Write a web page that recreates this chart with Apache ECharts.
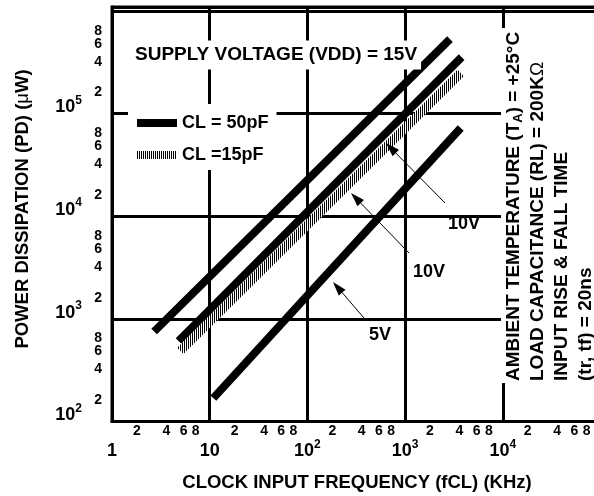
<!DOCTYPE html>
<html>
<head>
<meta charset="utf-8">
<script src="https://cdn.jsdelivr.net/npm/echarts@6/dist/echarts.min.js"></script>
<style>
html,body{margin:0;padding:0;background:#fff;}
#chart{width:594px;height:496px;}
</style>
</head>
<body>
<div id="chart"></div>
<script>
// ---- data ----
const freq15V50pF = [2.7, 2880];
const pd15V50pF   = [656, 463000];
const freq10V50pF = [4.8, 3790];
const pd10V50pF   = [530, 310000];
const freq10V15pF = [5.0, 3710];
const pd10V15pF   = [424, 217000];
const freq5V50pF  = [10.9, 3710];
const pd5V50pF    = [147, 63100];

const xDecades = [1, 10, 100, 1000, 10000];
const yDecades = [100, 1000, 10000, 100000];
const minorMantissas = [2, 4, 6, 8];
const xMinorDecades = [1, 10, 100, 1000, 10000];
const yMinorDecades = [100, 1000, 10000, 100000];

const legend50 = 'CL = 50pF';
const legend15 = 'CL =15pF';

// ---- helpers ----
function pairs(xs, ys) { return xs.map((x, i) => [x, ys[i]]); }
function decadeLabel(v) {
  const n = Math.round(Math.log10(v));
  if (n === 0) return '{b|1}';
  if (n === 1) return '{b|10}';
  return '{b|10}{s|' + n + '}';
}
function mantissa(v) {
  const d = Math.pow(10, Math.floor(Math.log10(v) + 1e-9));
  return String(Math.round(v / d));
}
function minorLabel(v) { return '{m|' + mantissa(v) + '}'; }

// hatched pattern (vertical stripes)
const pc = document.createElement('canvas');
pc.width = 2; pc.height = 2;
const pctx = pc.getContext('2d');
pctx.fillStyle = '#fff'; pctx.fillRect(0, 0, 2, 2);
pctx.fillStyle = '#000'; pctx.fillRect(0, 0, 1, 2);
const hatch = { image: pc, repeat: 'repeat' };

const FONT = '"Liberation Sans", Arial, Helvetica, sans-serif';
const richDecade = {
  b: { fontSize: 18, fontWeight: 'bold', lineHeight: 26, color: '#000', fontFamily: FONT },
  s: { fontSize: 12, fontWeight: 'bold', lineHeight: 12, padding: [0, 0, 14, 0], color: '#000', fontFamily: FONT }
};
const richMinorY = {
  m: { fontSize: 14, fontWeight: 'bold', lineHeight: 14, padding: [32, 0, 0, 0], color: '#000', fontFamily: FONT }
};
const richMinorX = {
  m: { fontSize: 14, fontWeight: 'bold', lineHeight: 14, padding: [0, 9, 0, 0], color: '#000', fontFamily: FONT }
};

const X_MIN = 1, X_MAX = 100000;
const Y_MIN = 87, Y_MAX = 954000;

const chart = echarts.init(document.getElementById('chart'), null, { renderer: 'canvas' });

function arrow(tail, tip) {
  const dx = tip[0] - tail[0], dy = tip[1] - tail[1];
  const L = Math.sqrt(dx * dx + dy * dy);
  const ux = dx / L, uy = dy / L;
  const hl = 14, hw = 4.5;
  const bx = tip[0] - ux * hl, by = tip[1] - uy * hl;
  return [
    { type: 'line', z: 10, shape: { x1: tail[0], y1: tail[1], x2: bx, y2: by },
      style: { stroke: '#000', lineWidth: 1 } },
    { type: 'polygon', z: 10, shape: { points: [tip, [bx - uy * hw, by + ux * hw], [bx + uy * hw, by - ux * hw]] },
      style: { fill: '#000' } }
  ];
}

function bold(size) { return { fontFamily: FONT, fontWeight: 'bold', fontSize: size, fill: '#000' }; }

// one hidden helper axis per mantissa so the offset minor labels never collide
const yMinorAxes = minorMantissas.map(m => ({
  type: 'log', min: Y_MIN, max: Y_MAX, gridIndex: 0, position: 'left',
  axisLine: { show: false }, axisTick: { show: false }, splitLine: { show: false },
  axisLabel: { customValues: yMinorDecades.map(d => m * d), formatter: minorLabel, rich: richMinorY, margin: 10,
    color: '#000', showMinLabel: true, showMaxLabel: true, hideOverlap: false }
}));
const xMinorAxes = minorMantissas.map(m => ({
  type: 'log', min: X_MIN, max: X_MAX, gridIndex: 0, position: 'bottom',
  axisLine: { show: false }, axisTick: { show: false }, splitLine: { show: false },
  axisLabel: { customValues: xMinorDecades.map(d => m * d), formatter: minorLabel, rich: richMinorX, margin: 3,
    color: '#000', showMinLabel: true, showMaxLabel: true, hideOverlap: false }
}));

const option = {
  animation: false,
  backgroundColor: '#fff',
  textStyle: { fontFamily: FONT },
  grid: {
    left: 112, right: -6.5, top: 7, bottom: 74.5,
    show: true, borderColor: '#000', borderWidth: 3, backgroundColor: 'transparent',
    containLabel: false, outerBoundsMode: 'none'
  },
  legend: {
    orient: 'vertical', left: 128, top: 104,
    padding: [9, 8, 5, 9], backgroundColor: '#fff',
    itemWidth: 40, itemHeight: 8, itemGap: 12, icon: 'rect',
    selectedMode: false,
    textStyle: { fontSize: 18, fontWeight: 'bold', color: '#000', fontFamily: FONT, lineHeight: 20 },
    data: [
      { name: legend50, itemStyle: { color: '#000' } },
      { name: legend15, itemStyle: { color: hatch } }
    ]
  },
  xAxis: [
    {
      type: 'log', min: X_MIN, max: X_MAX, gridIndex: 0, position: 'bottom',
      axisLine: { show: true, lineStyle: { color: '#000', width: 3 } },
      axisTick: { show: false },
      splitLine: { show: true, lineStyle: { color: '#000', width: 3 } },
      minorSplitLine: { show: false },
      axisLabel: { customValues: xDecades, formatter: decadeLabel, rich: richDecade, margin: 17, color: '#000',
        showMinLabel: true, showMaxLabel: true, hideOverlap: false }
    }
  ].concat(xMinorAxes),
  yAxis: [
    {
      type: 'log', min: Y_MIN, max: Y_MAX, gridIndex: 0, position: 'left', interval: 1,
      axisLine: { show: true, lineStyle: { color: '#000', width: 3 } },
      axisTick: { show: false },
      splitLine: { show: true, lineStyle: { color: '#000', width: 3 } },
      axisLabel: { customValues: yDecades, formatter: decadeLabel, rich: richDecade, margin: 30, color: '#000',
        showMinLabel: true, showMaxLabel: true, hideOverlap: false }
    }
  ].concat(yMinorAxes),
  series: [
    { name: legend50, type: 'line', data: pairs(freq15V50pF, pd15V50pF), symbol: 'none',
      lineStyle: { color: '#000', width: 8, cap: 'butt' }, itemStyle: { color: '#000' } },
    { name: legend50, type: 'line', data: pairs(freq10V50pF, pd10V50pF), symbol: 'none',
      lineStyle: { color: '#000', width: 8, cap: 'butt' }, itemStyle: { color: '#000' } },
    { name: legend15, type: 'line', data: pairs(freq10V15pF, pd10V15pF), symbol: 'none',
      lineStyle: { color: hatch, width: 9, cap: 'butt' }, itemStyle: { color: hatch } },
    { name: legend50, type: 'line', data: pairs(freq5V50pF, pd5V50pF), symbol: 'none',
      lineStyle: { color: '#000', width: 8, cap: 'butt' }, itemStyle: { color: '#000' } }
  ],
  graphic: [
    // right note block background
    { type: 'rect', z: 5, shape: { x: 501, y: 28, width: 100, height: 355 }, style: { fill: '#fff' } },
    { type: 'text', z: 6, x: 502, y: 381, rotation: Math.PI / 2,
      style: {
        text: 'AMBIENT TEMPERATURE (T{sub|A}) = +25°C\nLOAD CAPACITANCE (RL) = 200K{om|Ω}\nINPUT RISE & FALL TIME\n(tr, tf) = 20ns',
        align: 'left', verticalAlign: 'top',
        fontFamily: FONT, fontWeight: 'bold', fontSize: 19, lineHeight: 24, fill: '#000',
        rich: {
          sub: { fontFamily: FONT, fontWeight: 'bold', fontSize: 13, lineHeight: 24, padding: [8, 0, 0, 0], fill: '#000' },
          om: { fontFamily: FONT, fontWeight: 'normal', fontSize: 19, lineHeight: 24, fill: '#000' }
        }
      } },
    // supply voltage
    { type: 'text', z: 6, x: 131, y: 55,
      style: Object.assign({ text: 'SUPPLY VOLTAGE (VDD) = 15V', align: 'left', verticalAlign: 'middle',
        backgroundColor: '#fff', padding: [5, 4, 5, 4] }, bold(19)) },
    // annotations
    { type: 'text', z: 10, x: 464, y: 224, style: Object.assign({ text: '10V', align: 'center', verticalAlign: 'middle' }, bold(18)) },
    { type: 'text', z: 10, x: 429, y: 272, style: Object.assign({ text: '10V', align: 'center', verticalAlign: 'middle' }, bold(18)) },
    { type: 'text', z: 10, x: 380, y: 335, style: Object.assign({ text: '5V', align: 'center', verticalAlign: 'middle' }, bold(18)) },
    ...arrow([445, 203], [386, 143]),
    ...arrow([409, 253], [351, 193]),
    ...arrow([364, 318], [333, 282]),
    // axis titles
    { type: 'text', z: 6, x: 357, y: 483,
      style: Object.assign({ text: 'CLOCK INPUT FREQUENCY (fCL) (KHz)', align: 'center', verticalAlign: 'middle' }, bold(18.5)) },
    { type: 'text', z: 6, x: 23, y: 209, rotation: Math.PI / 2,
      style: Object.assign({ text: 'POWER DISSIPATION (PD) ({mu|μ}W)', align: 'center', verticalAlign: 'middle',
        rich: { mu: { fontFamily: FONT, fontWeight: 'normal', fontSize: 18.5, fill: '#000' } } }, bold(18.5)) }
  ]
};
chart.setOption(option);
</script>
</body>
</html>
